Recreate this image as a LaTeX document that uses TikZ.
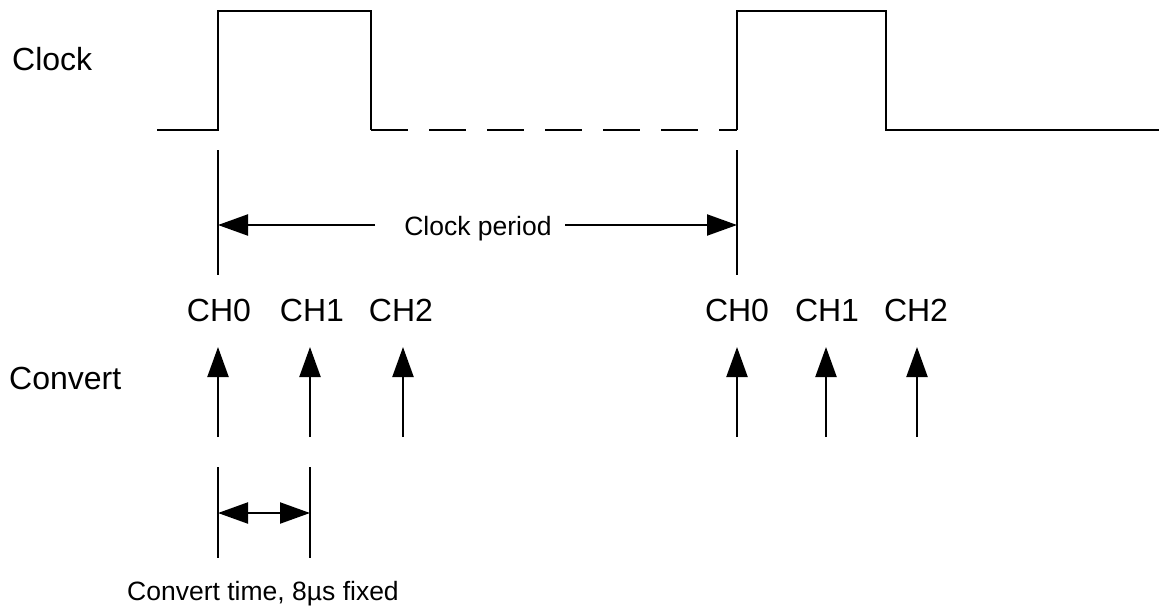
\documentclass[tikz,border=0pt]{standalone}
\usepackage{fontspec}
\setmainfont{Liberation Sans}
\usetikzlibrary{arrows.meta}
\begin{document}
\begin{tikzpicture}[x=1pt,y=-1pt,
  wave/.style={line width=2.2pt,line join=miter},
  mline/.style={line width=2.2pt},
  big/.style={font=\fontsize{32}{38}\selectfont,inner sep=0pt},
  chl/.style={font=\fontsize{32}{38}\selectfont,inner sep=0pt,anchor=base},
  small/.style={font=\fontsize{26.5}{32}\selectfont,inner sep=0pt,anchor=base},
  tip/.style={-{Triangle[length=30pt,width=21pt]}},
  dtip/.style={{Triangle[length=30pt,width=21pt]}-{Triangle[length=30pt,width=21pt]}}]
\useasboundingbox (0,0) rectangle (1159,611);
% clock waveform
\draw[wave] (157,130) -- (218,130) -- (218,11) -- (371,11) -- (371,130);
\draw[wave,dash pattern=on 37pt off 21pt] (371,130) -- (737,130);
\draw[wave] (737,130) -- (737,11) -- (886,11) -- (886,130) -- (1159,130);
% labels
\node[big,anchor=base west] (lclock) at (12,70) {Clock};
\node[big,anchor=base west] (lconv) at (9,389) {Convert};
% period markers
\coordinate (p1a) at (218,150); \coordinate (p1b) at (218,275);
\coordinate (p2a) at (737,150); \coordinate (p2b) at (737,275);
\draw[mline] (p1a) -- (p1b);
\draw[mline] (p2a) -- (p2b);
\node[small] (cp) at (478,235) {Clock period};
\coordinate (cpl) at (375,225); \coordinate (cpr) at (565,225);
\draw[mline,tip] (cpl) -- (cpl -| p1a);
\draw[mline,tip] (cpr) -- (cpr -| p2a);
% channel labels
\node[chl] (a0) at (219,321) {CH0};
\node[chl] (a1) at (312,321) {CH1};
\node[chl] (a2) at (401,321) {CH2};
\node[chl] (b0) at (737,321) {CH0};
\node[chl] (b1) at (827,321) {CH1};
\node[chl] (b2) at (916,321) {CH2};
% convert arrows
\foreach \n/\x in {c0/218,c1/310,c2/403,d0/737,d1/826,d2/917}{
  \coordinate (\n s) at (\x,437);
  \coordinate (\n e) at (\x,347);
  \draw[mline,tip] (\n s) -- (\n e);
}
% convert time
\coordinate (t1a) at (218,467); \coordinate (t1b) at (218,558);
\coordinate (t2a) at (310,467); \coordinate (t2b) at (310,558);
\draw[mline] (t1a) -- (t1b);
\draw[mline] (t2a) -- (t2b);
\coordinate (tm1) at (218,513); \coordinate (tm2) at (310,513);
\draw[mline,dtip] (tm1) -- (tm2);
\node[small] (ct) at (263,600) {Convert time, 8µs fixed};
\end{tikzpicture}
\end{document}
